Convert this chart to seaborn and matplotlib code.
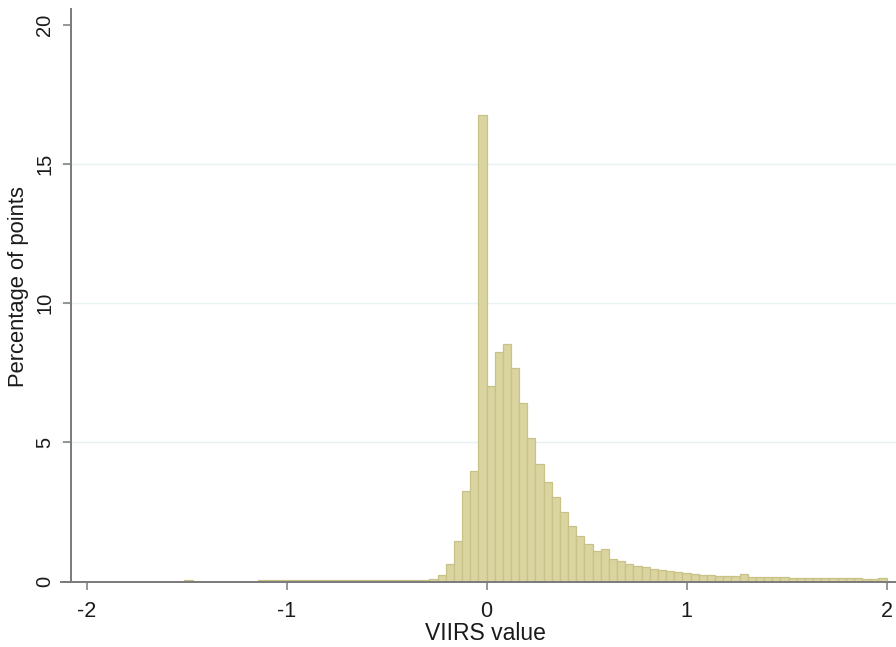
import numpy as np
import pandas as pd
import matplotlib
matplotlib.use("Agg")
import matplotlib.pyplot as plt
import seaborn as sns

# ---- data ----
bin_width = 2 / 49
first_bin_index = -37          # first bin starts at -37 * bin_width (about -1.51)
percent_of_points = [
    0.07,                                              # ~ -1.50
    0, 0, 0, 0, 0, 0, 0, 0,                            # -1.47 .. -1.18
    0.06, 0.06, 0.06, 0.06, 0.06, 0.06, 0.06, 0.06, 0.06, 0.06,
    0.06, 0.06, 0.06, 0.06, 0.06, 0.06, 0.06, 0.06, 0.06, 0.06,   # -1.14 .. -0.37
    0.07, 0.10, 0.23, 0.63, 1.47, 3.26, 3.98,          # -0.33 .. -0.08
    16.75,                                             # -0.04 .. 0
    7.03, 8.25, 8.52, 7.68, 6.40, 5.14, 4.22, 3.58, 3.02, 2.48,
    2.00, 1.63, 1.33, 1.10, 1.17, 0.81, 0.72, 0.63, 0.57, 0.51,
    0.46, 0.41, 0.38, 0.34, 0.31, 0.27, 0.24, 0.23, 0.21, 0.20,
    0.19, 0.26, 0.17, 0.16, 0.16, 0.15, 0.15, 0.14, 0.14, 0.13,
    0.13, 0.12, 0.12, 0.12, 0.11, 0.11, 0.10, 0.10, 0.14,
]
x_ticks = [-2, -1, 0, 1, 2]
y_ticks = [0, 5, 10, 15, 20]
x_label = "VIIRS value"
y_label = "Percentage of points"

n_bins = len(percent_of_points)
bin_edges = [float(v) for v in (np.arange(n_bins + 1) + first_bin_index) * bin_width]
bin_centers = [(a + b) / 2 for a, b in zip(bin_edges[:-1], bin_edges[1:])]
df = pd.DataFrame({"viirs": bin_centers, "pct": percent_of_points})

# ---- style ----
sns.set_theme(style="white")
plt.rcParams["font.family"] = ["Liberation Sans", "DejaVu Sans"]

W, H = 896, 647
fig = plt.figure(figsize=(W / 100, H / 100), dpi=100)
ax_left_px, ax_right_px = 61, 896
ax_top_px, ax_bottom_px = 9, 581.5
ax = fig.add_axes([ax_left_px / W, (H - ax_bottom_px) / H,
                   (ax_right_px - ax_left_px) / W, (ax_bottom_px - ax_top_px) / H])

sns.histplot(data=df, x="viirs", weights="pct", bins=bin_edges, stat="count",
             color="#DAD4A0", edgecolor="#C8C188", linewidth=0.9, alpha=1.0, ax=ax)

px_per_unit_x = 200.0
x0_px = 486.5
ax.set_xlim((ax_left_px - x0_px) / px_per_unit_x, (ax_right_px - x0_px) / px_per_unit_x)
px_per_unit_y = (581.5 - 24.5) / 20
ax.set_ylim(0, (ax_bottom_px - ax_top_px) / px_per_unit_y)

ax.set_xticks(x_ticks)
ax.set_xticklabels([str(t) for t in x_ticks])
ax.set_yticks(y_ticks)
ax.set_yticklabels([str(t) for t in y_ticks])

# grid at interior ticks only
for yv in y_ticks[1:-1]:
    ax.axhline(yv, color="#E8F1F3", linewidth=1.0, zorder=0)

spine_col = "#7A7A7A"
for s in ["top", "right"]:
    ax.spines[s].set_visible(False)
ax.spines["left"].set_position(("data", (71 - x0_px) / px_per_unit_x))
ax.spines["left"].set_color(spine_col)
ax.spines["bottom"].set_color(spine_col)
ax.spines["left"].set_linewidth(1.4)
ax.spines["bottom"].set_linewidth(1.4)
ax.spines["left"].set_zorder(5)
ax.spines["bottom"].set_zorder(5)

ax.tick_params(axis="both", direction="out", color=spine_col, width=1.1, length=6,
               bottom=True, left=True, labelcolor="#1a1a1a")
ax.tick_params(axis="x", labelsize=15.5, pad=8)
ax.tick_params(axis="y", labelsize=14.5, pad=6, labelrotation=90)
for lab in ax.get_yticklabels():
    lab.set_verticalalignment("center")

ax.set_xlabel(x_label, fontsize=16.5, color="#1a1a1a")
ax.set_ylabel(y_label, fontsize=15.8, color="#1a1a1a")
ax.xaxis.set_label_coords((485.5 - ax_left_px) / (ax_right_px - ax_left_px),
                          (ax_bottom_px - 622) / (ax_bottom_px - ax_top_px))
ax.yaxis.set_label_coords((29 - ax_left_px) / (ax_right_px - ax_left_px),
                          (ax_bottom_px - 287) / (ax_bottom_px - ax_top_px))

fig.savefig("out.png", dpi=100, facecolor="white")
